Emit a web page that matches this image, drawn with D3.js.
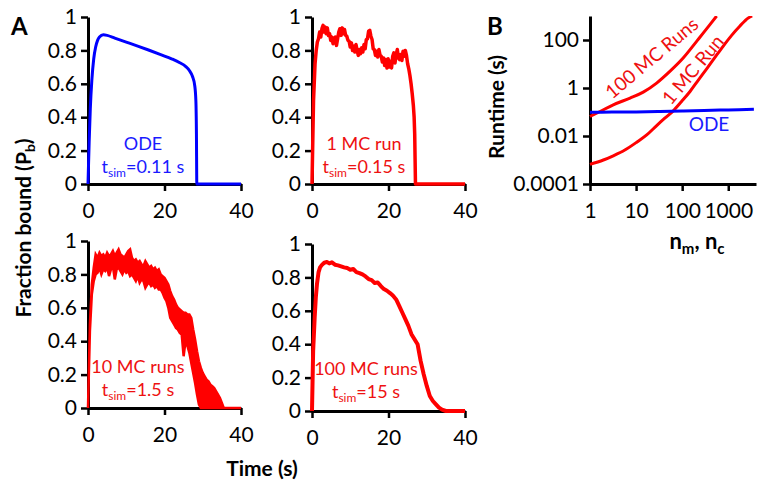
<!DOCTYPE html>
<html>
<head>
<meta charset="utf-8">
<script src="https://cdn.jsdelivr.net/npm/d3@7"></script>
<style>
  body { margin: 0; background: #fff; }
  text { font-family: Lato, "Open Sans", sans-serif; }
</style>
</head>
<body>
<svg id="fig" width="771" height="490"></svg>
<script>
// ---- data ----
const timeTicks = [0, 20, 40];
const pbTicks = [0, 0.2, 0.4, 0.6, 0.8, 1];
const pbTickLabels = ["0", "0.2", "0.4", "0.6", "0.8", "1"];

// ODE trace
const odeT = [0, 0.3, 0.6, 1, 1.5, 2, 2.5, 3, 4, 5, 7, 10, 13, 16, 19, 22, 24, 25.5, 26.5, 27.3, 27.9, 28.2, 28.35, 28.45, 40];
const odeP = [0, 0.25, 0.45, 0.62, 0.75, 0.82, 0.86, 0.88, 0.893, 0.89, 0.874, 0.85, 0.826, 0.801, 0.775, 0.748, 0.726, 0.705, 0.68, 0.645, 0.59, 0.5, 0.3, 0, 0];

// 1 MC run
const mc1T = [0, 0.4, 0.8, 1.1, 1.4, 1.7, 2.0, 2.3, 2.6, 2.9, 3.1, 3.4, 3.7, 4.0, 4.3, 4.6, 4.9, 5.2, 5.5, 5.8,
  6.1, 6.4, 6.7, 7.0, 7.3, 7.6, 7.9, 8.2, 8.5, 8.8, 9.1, 9.4, 9.7, 10.0, 10.3, 10.6, 10.9, 11.2, 11.5, 11.8,
  12.1, 12.4, 12.7, 13.0, 13.3, 13.6, 13.9, 14.2, 14.5, 14.8, 15.1, 15.4, 15.7, 16.0, 16.3, 16.6, 16.9, 17.2, 17.5, 17.8,
  18.1, 18.4, 18.7, 19.0, 19.3, 19.6, 19.9, 20.2, 20.5, 20.8, 21.1, 21.4, 21.7, 22.0, 22.3, 22.6, 22.9, 23.2, 23.5, 23.8,
  24.1, 24.4, 24.7, 25.0, 25.3, 25.6, 25.9, 26.2, 26.5, 26.7, 26.85, 26.95, 27.05, 40];
const mc1P = [0, 0.5, 0.72, 0.80, 0.85, 0.87, 0.91, 0.88, 0.93, 0.95, 0.91, 0.94, 0.90, 0.935, 0.89, 0.90, 0.86, 0.88, 0.84, 0.87,
  0.88, 0.83, 0.87, 0.91, 0.93, 0.89, 0.935, 0.90, 0.925, 0.89, 0.885, 0.86, 0.855, 0.82, 0.845, 0.80, 0.825, 0.79, 0.835, 0.80,
  0.77, 0.805, 0.78, 0.815, 0.79, 0.835, 0.81, 0.865, 0.87, 0.915, 0.92, 0.885, 0.865, 0.81, 0.805, 0.77, 0.795, 0.76, 0.805, 0.77,
  0.765, 0.73, 0.755, 0.71, 0.745, 0.695, 0.75, 0.70, 0.735, 0.695, 0.765, 0.785, 0.725, 0.775, 0.805, 0.755, 0.745, 0.775, 0.74, 0.795,
  0.765, 0.80, 0.77, 0.72, 0.69, 0.65, 0.60, 0.54, 0.47, 0.40, 0.30, 0.15, 0, 0];

// 10 MC runs: upper / lower edge of the noisy band
const mc10T = [0, 0.5, 1.0, 1.5, 2.0, 2.5, 3.0, 3.5, 4.0, 4.5, 5.0, 5.5, 6.0, 6.5, 7.0, 7.5, 8.0, 8.5, 9.0, 9.5,
  10.0, 10.5, 11.0, 11.5, 12.0, 12.5, 13.0, 13.5, 14.0, 14.5, 15.0, 15.5, 16.0, 16.5, 17.0, 17.5, 18.0, 18.5,
  19.0, 19.5, 20.0, 20.5, 21.0, 21.5, 22.0, 22.5, 23.0, 23.5, 24.0, 24.5, 25.0, 25.5, 26.0, 26.5, 27.0, 27.5,
  28.0, 28.5, 29.0, 29.5, 30.0, 30.5, 31.0, 31.5, 32.0, 32.5, 33.0, 33.5, 34.0, 34.5, 35.0, 35.5, 40];
const mc10Hi = [0, 0.50, 0.74, 0.84, 0.92, 0.90, 0.93, 0.91, 0.92, 0.90, 0.93, 0.91, 0.92, 0.94, 0.91, 0.93, 0.95, 0.92, 0.91, 0.90,
  0.92, 0.94, 0.95, 0.90, 0.88, 0.89, 0.87, 0.88, 0.86, 0.85, 0.88, 0.86, 0.84, 0.85, 0.83, 0.84, 0.82, 0.83,
  0.80, 0.79, 0.78, 0.76, 0.74, 0.70, 0.67, 0.65, 0.62, 0.60, 0.59, 0.58, 0.57, 0.57, 0.56, 0.56, 0.54, 0.47,
  0.41, 0.34, 0.28, 0.24, 0.21, 0.19, 0.17, 0.16, 0.14, 0.13, 0.12, 0.10, 0.08, 0.06, 0.03, 0, 0];
const mc10Lo = [0, 0.46, 0.68, 0.76, 0.80, 0.81, 0.84, 0.80, 0.83, 0.82, 0.84, 0.79, 0.83, 0.85, 0.77, 0.83, 0.84, 0.82, 0.80, 0.83,
  0.81, 0.82, 0.79, 0.80, 0.78, 0.76, 0.79, 0.75, 0.77, 0.76, 0.72, 0.74, 0.75, 0.73, 0.74, 0.72, 0.73, 0.71,
  0.71, 0.69, 0.66, 0.64, 0.60, 0.54, 0.52, 0.50, 0.48, 0.47, 0.45, 0.44, 0.31, 0.40, 0.37, 0.33, 0.27, 0.21,
  0.15, 0.08, 0.02, 0, 0, 0, 0, 0, 0, 0, 0, 0, 0, 0, 0, 0, 0];

// 100 MC runs
const mc100T = [0, 0.3, 0.7, 1.0, 1.3, 1.7, 2.1, 2.6, 3.2, 3.9, 4.5, 5.2, 6.0, 6.8, 7.6, 8.4, 9.2, 10.0, 10.8, 11.6,
  12.4, 13.2, 14.0, 14.8, 15.6, 16.4, 17.2, 18.0, 18.8, 19.6, 20.4, 21.2, 22.0, 22.8, 23.6, 24.4, 25.2, 26.0,
  26.8, 27.6, 28.4, 29.2, 30.0, 30.8, 31.6, 32.4, 33.2, 34.0, 35, 40];
const mc100P = [0, 0.36, 0.56, 0.68, 0.76, 0.83, 0.86, 0.875, 0.888, 0.892, 0.884, 0.89, 0.876, 0.872, 0.866, 0.86, 0.856, 0.846, 0.85, 0.832,
  0.826, 0.818, 0.806, 0.79, 0.784, 0.766, 0.77, 0.748, 0.73, 0.72, 0.706, 0.69, 0.668, 0.63, 0.59, 0.55, 0.51, 0.46,
  0.43, 0.40, 0.30, 0.22, 0.15, 0.09, 0.06, 0.04, 0.02, 0.008, 0, 0];

// panel B: runtime vs n
const nTicks = [1, 10, 100, 1000];
const runtimeTicks = [1e-4, 1e-2, 1, 100];
const runtimeTickLabels = ["0.0001", "0.01", "1", "100"];
const odeRunN = [1, 3, 10, 30, 100, 300, 1000, 3600];
const odeRunS = [0.098, 0.099, 0.101, 0.105, 0.11, 0.116, 0.122, 0.13];
const mc1RunN = [1, 1.95, 3.2, 5.7, 10.3, 17, 28, 42, 64, 97, 148, 224, 340, 514, 780, 1183, 1795, 2720, 3300];
const mc1RunS = [6.6e-4, 1.0e-3, 1.5e-3, 2.6e-3, 5.5e-3, 0.0111, 0.0273, 0.0552, 0.112, 0.274, 0.717, 2.13, 6.3, 18.8, 56, 156, 383, 826, 1000];
const mc100RunN = [1, 1.65, 3.2, 7.4, 14.3, 27.9, 54, 105, 206, 400, 560];
const mc100RunS = [0.065, 0.105, 0.2, 0.38, 0.67, 1.6, 4.9, 17.7, 88, 435, 1000];

// ---- drawing ----
const RED = "#ff0000", BLUE = "#0000ff";
const RED_TXT = "#ee1111", BLUE_TXT = "#1a1aff";
const svg = d3.select("#fig");

function styleAxis(g) {
  g.select(".domain").attr("stroke", "#000").attr("stroke-width", 3);
  g.selectAll(".tick line").attr("stroke", "#000").attr("stroke-width", 2.5);
  g.selectAll(".tick text").attr("font-size", 21).attr("fill", "#000")
    .style("font-family", "Lato, 'Open Sans', sans-serif");
}

function subLabel(x, y, color, lines) {
  // lines: [plain text, rest after the "t_sim" part]
  svg.append("text").attr("x", x).attr("y", y).attr("text-anchor", "middle")
    .attr("font-size", 18).attr("fill", color).text(lines[0]);
  const t2 = svg.append("text").attr("x", x).attr("y", y + 23).attr("text-anchor", "middle")
    .attr("font-size", 18).attr("fill", color);
  t2.append("tspan").text("t");
  t2.append("tspan").attr("font-size", 12).attr("dy", 4).text("sim");
  t2.append("tspan").attr("dy", -4).text(lines[1]);
}

function timePanel(x0, y0) {
  const x = d3.scaleLinear().domain([0, 40]).range([x0, x0 + 153]);
  const y = d3.scaleLinear().domain([0, 1]).range([y0 + 167, y0]);
  svg.append("g").attr("transform", `translate(0,${y0 + 167})`)
    .call(d3.axisBottom(x).tickValues(timeTicks).tickSize(7).tickSizeOuter(0).tickPadding(12))
    .call(styleAxis);
  svg.append("g").attr("transform", `translate(${x0},0)`)
    .call(d3.axisLeft(y).tickValues(pbTicks).tickSize(7).tickSizeOuter(0).tickPadding(4)
      .tickFormat((d, i) => pbTickLabels[i]))
    .call(styleAxis);
  return { x, y };
}

// A1: ODE
const p1 = timePanel(88, 17);
svg.append("path")
  .datum(odeT.map((t, i) => [t, odeP[i]]))
  .attr("fill", "none").attr("stroke", BLUE).attr("stroke-width", 3).attr("stroke-linejoin", "round")
  .attr("d", d3.line().x(d => p1.x(d[0])).y(d => p1.y(d[1])).curve(d3.curveMonotoneX));
subLabel(143, 150, BLUE_TXT, ["ODE", "=0.11 s"]);

// A2: 1 MC run
const p2 = timePanel(312, 17);
svg.append("path")
  .datum(mc1T.map((t, i) => [t, mc1P[i]]))
  .attr("fill", "none").attr("stroke", RED).attr("stroke-width", 3.5).attr("stroke-linejoin", "round")
  .attr("d", d3.line().x(d => p2.x(d[0])).y(d => p2.y(d[1])));
subLabel(364, 150, RED_TXT, ["1 MC run", "=0.15 s"]);

// A3: 10 MC runs
const p3 = timePanel(88, 241);
svg.append("path")
  .datum(mc10T.map((t, i) => [t, mc10Lo[i], mc10Hi[i]]))
  .attr("fill", RED).attr("stroke", RED).attr("stroke-width", 2.5).attr("stroke-linejoin", "miter")
  .attr("d", d3.area().x(d => p3.x(d[0])).y0(d => p3.y(d[1])).y1(d => p3.y(d[2])));
subLabel(138, 373, RED_TXT, ["10 MC runs", "=1.5 s"]);

// A4: 100 MC runs
const p4 = timePanel(312, 244);
svg.append("path")
  .datum(mc100T.map((t, i) => [t, mc100P[i]]))
  .attr("fill", "none").attr("stroke", RED).attr("stroke-width", 4).attr("stroke-linejoin", "round")
  .attr("d", d3.line().x(d => p4.x(d[0])).y(d => p4.y(d[1])));
subLabel(366, 375, RED_TXT, ["100 MC runs", "=15 s"]);

// shared axis titles for A
svg.append("text").attr("x", 262).attr("y", 476).attr("text-anchor", "middle")
  .attr("font-size", 21).attr("font-weight", "bold").text("Time (s)");
const fy = svg.append("text").attr("transform", "translate(31,228) rotate(-90)")
  .attr("text-anchor", "middle").attr("font-size", 21).attr("font-weight", "bold");
fy.append("tspan").text("Fraction bound (P");
fy.append("tspan").attr("font-size", 14).attr("dy", 4).text("b");
fy.append("tspan").attr("dy", -4).text(")");

svg.append("text").attr("x", 11).attr("y", 35).attr("font-size", 24).attr("font-weight", "bold").text("A");
svg.append("text").attr("x", 487).attr("y", 35).attr("font-size", 24).attr("font-weight", "bold").text("B");

// B: runtime
const bx = d3.scaleLog().domain([1, 4000]).range([590, 756]);
const by = d3.scaleLog().domain([1e-4, 1e3]).range([184, 16]);
svg.append("defs").append("clipPath").attr("id", "clipB")
  .append("rect").attr("x", 588).attr("y", 16).attr("width", 175).attr("height", 170);

svg.append("g").attr("transform", "translate(0,184)")
  .call(d3.axisBottom(bx).tickValues(nTicks).tickSize(7).tickSizeOuter(0).tickPadding(12)
    .tickFormat(d3.format("d")))
  .call(styleAxis);
svg.append("g").attr("transform", "translate(590,0)")
  .call(d3.axisLeft(by).tickValues(runtimeTicks).tickSize(7).tickSizeOuter(0).tickPadding(4)
    .tickFormat((d, i) => runtimeTickLabels[i]))
  .call(styleAxis);

const bLine = d3.line().x(d => bx(d[0])).y(d => by(d[1])).curve(d3.curveMonotoneX);
const bg = svg.append("g").attr("clip-path", "url(#clipB)");
bg.append("path").datum(mc100RunN.map((n, i) => [n, mc100RunS[i]]))
  .attr("fill", "none").attr("stroke", RED).attr("stroke-width", 3).attr("d", bLine);
bg.append("path").datum(mc1RunN.map((n, i) => [n, mc1RunS[i]]))
  .attr("fill", "none").attr("stroke", RED).attr("stroke-width", 3).attr("d", bLine);
bg.append("path").datum(odeRunN.map((n, i) => [n, odeRunS[i]]))
  .attr("fill", "none").attr("stroke", BLUE).attr("stroke-width", 3).attr("d", bLine);

svg.append("text").attr("transform", "translate(656,63) rotate(-40)").attr("text-anchor", "middle")
  .attr("font-size", 19).attr("fill", RED_TXT).text("100 MC Runs");
svg.append("text").attr("transform", "translate(698,74) rotate(-50)").attr("text-anchor", "middle")
  .attr("font-size", 19).attr("fill", RED_TXT).text("1 MC Run");
svg.append("text").attr("x", 709).attr("y", 131).attr("text-anchor", "middle")
  .attr("font-size", 19).attr("fill", BLUE_TXT).text("ODE");

svg.append("text").attr("transform", "translate(504,107) rotate(-90)").attr("text-anchor", "middle")
  .attr("font-size", 21).attr("font-weight", "bold").text("Runtime (s)");
const nl = svg.append("text").attr("x", 697).attr("y", 249).attr("text-anchor", "middle")
  .attr("font-size", 22).attr("font-weight", "bold");
nl.append("tspan").text("n");
nl.append("tspan").attr("font-size", 15).attr("dy", 5).text("m");
nl.append("tspan").attr("dy", -5).text(", n");
nl.append("tspan").attr("font-size", 15).attr("dy", 5).text("c");
</script>
</body>
</html>
